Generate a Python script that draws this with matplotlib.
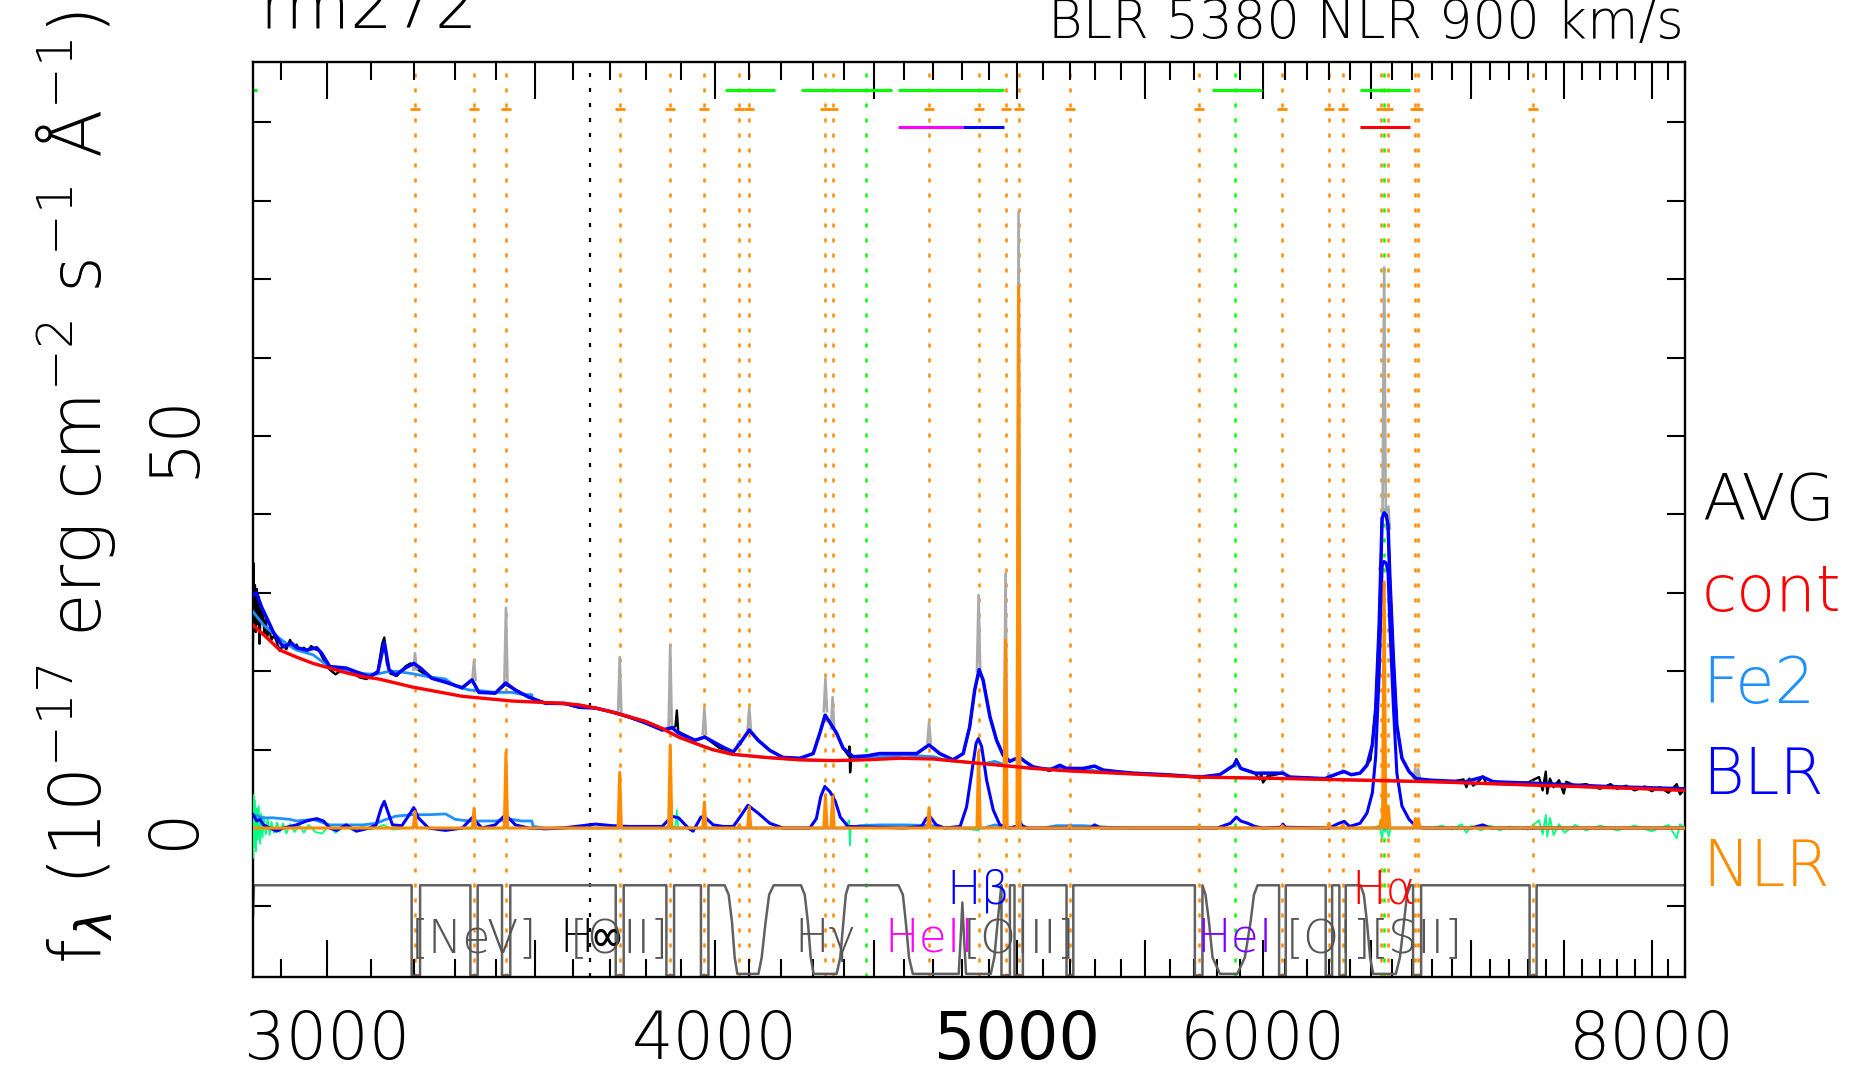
import numpy as np
import matplotlib
matplotlib.use("Agg")
import matplotlib.pyplot as plt

plt.rcParams['font.family'] = ['DejaVu Sans', 'DejaVu Sans Mono', 'Noto Sans CJK SC']
plt.rcParams['font.weight'] = 200
plt.rcParams['mathtext.fontset'] = 'custom'
plt.rcParams['mathtext.rm'] = 'DejaVu Sans:light'
plt.rcParams['mathtext.it'] = 'DejaVu Sans:italic:light'
plt.rcParams['mathtext.bf'] = 'DejaVu Sans:bold'
plt.rcParams['lines.scale_dashes'] = False

# ---------------- data (rest wavelength in Angstrom, flux in 1e-17 units) ----------------
cont_w = [2841, 2868, 2898, 2934, 2970, 3007, 3044, 3082, 3119, 3157, 3195, 3235, 3276, 3317,
          3358, 3399, 3441, 3484, 3528, 3573, 3616, 3661, 3706, 3752, 3799, 3846, 3893, 3941,
          3992, 4052, 4154, 4257, 4365, 4475, 4586, 4702, 4819, 4939, 5062, 5188, 5314, 5447,
          5583, 5723, 5813, 6128, 6458, 6806, 7173, 7559, 7966, 8200]
cont_f = [25.9, 24.4, 22.7, 21.8, 21.0, 20.4, 19.8, 19.3, 19.0, 18.5, 18.0, 17.6, 17.2, 16.8,
          16.6, 16.4, 16.2, 16.1, 16.0, 15.9, 15.7, 15.3, 14.8, 14.2, 13.6, 12.7, 11.6, 10.8,
          10.0, 9.4, 9.0, 8.7, 8.6, 8.7, 8.9, 8.8, 8.4, 8.0, 7.6, 7.3, 7.1, 6.9,
          6.7, 6.5, 6.45, 6.3, 6.1, 5.9, 5.6, 5.3, 5.0, 4.8]

model_w = [2841, 2848, 2859, 2870, 2884, 2905, 2923, 2934, 2956, 2978, 2989, 3007, 3044, 3067,
           3097, 3116, 3131, 3142, 3157, 3180, 3200, 3216, 3243, 3276, 3317, 3341, 3358, 3399,
           3425, 3450, 3484, 3528, 3580, 3616, 3661, 3706, 3752, 3799, 3846, 3874, 3893, 3941,
           3969, 3994, 4024, 4054, 4074, 4102, 4129, 4165, 4206, 4259, 4301, 4322, 4339, 4360,
           4376, 4397, 4430, 4474, 4518, 4586, 4643, 4686, 4723, 4770, 4806, 4829, 4847, 4863,
           4877, 4902, 4926, 4950, 4975, 4993, 5012, 5030, 5061, 5124, 5162, 5188, 5252, 5297,
           5330, 5383, 5450, 5586, 5726, 5811, 5872, 5883, 5902, 5964, 6089, 6121, 6281, 6347,
           6372, 6405, 6447, 6480, 6506, 6522, 6539, 6553, 6563, 6573, 6582, 6591, 6608, 6625,
           6650, 6685, 6720, 6790, 6969, 7060, 7116, 7340, 7730, 8200]
model_f = [29.7, 30.0, 28.2, 26.8, 25.0, 23.1, 23.6, 23.0, 22.7, 23.0, 22.3, 20.6, 20.4, 19.9,
           19.3, 19.9, 23.7, 20.2, 19.5, 20.4, 21.0, 20.4, 19.1, 18.6, 17.9, 18.9, 17.3, 17.2,
           18.5, 17.6, 16.7, 15.9, 15.9, 15.4, 15.3, 14.8, 14.2, 13.4, 12.5, 12.8, 12.1, 11.2,
           11.6, 11.0, 10.3, 9.7, 10.8, 12.5, 11.2, 9.9, 9.0, 8.9, 9.5, 12.1, 14.4, 13.1,
           12.1, 10.2, 9.1, 9.2, 9.5, 9.5, 9.5, 10.6, 9.5, 8.7, 9.5, 12.9, 17.6, 20.2,
           18.9, 14.2, 11.2, 9.3, 8.5, 8.8, 9.0, 8.5, 7.8, 7.4, 8.0, 7.6, 7.6, 7.9,
           7.4, 7.2, 7.0, 6.8, 6.5, 6.8, 8.0, 8.6, 7.6, 7.0, 7.0, 6.5, 6.3, 7.0,
           7.2, 6.8, 7.0, 8.0, 10.6, 15.2, 25.9, 39.5, 40.2, 39.9, 38.6, 31.8, 21.6, 13.1,
           8.9, 7.2, 6.3, 6.1, 5.9, 6.5, 5.9, 5.7, 5.3, 5.0]

contfe_w = [2841, 2863, 2884, 2920, 2934, 2970, 3007, 3044, 3082, 3112, 3135, 3157, 3195, 3235,
            3276, 3300, 3334, 3366, 3399, 3441, 3466, 3492, 3496, 3528, 3573, 3616, 3661, 3706,
            3752, 3799, 3846, 3893, 3941, 3992, 4052, 4154, 4257, 4365, 4420, 4450, 4520, 4600,
            4700, 4750, 4880, 4920, 4960, 5062, 5150, 5250, 5350, 5450, 5583, 5723, 6128, 6458,
            6806, 7173, 7559, 7966, 8200]
contfe_f = [27.6, 25.9, 24.8, 23.2, 22.7, 22.1, 20.5, 20.2, 19.7, 19.6, 19.9, 20.0, 19.7, 19.3,
            19.0, 18.1, 17.6, 17.5, 17.3, 17.3, 17.05, 17.0, 16.3, 16.0, 15.9, 15.7, 15.3, 14.8,
            14.2, 13.6, 12.7, 11.6, 10.8, 10.0, 9.4, 9.0, 8.7, 8.6, 8.65, 9.0, 9.1, 9.3,
            9.1, 8.6, 8.2, 8.5, 8.0, 7.6, 7.6, 7.5, 7.1, 6.9, 6.7, 6.5, 6.3, 6.1,
            5.9, 5.6, 5.3, 5.0, 4.8]

avg_w = [2841, 2842, 2843, 2845, 2847, 2849, 2851, 2853, 2855, 2857, 2860, 2862, 2865, 2868,
         2871, 2875, 2880, 2886, 2892, 2898, 2905, 2912, 2920, 2928, 2934, 2942, 2950, 2958,
         2966, 2975, 2984, 2993, 3007, 3020, 3030, 3044, 3060, 3075, 3090, 3105, 3116, 3126,
         3131, 3137, 3145, 3160, 3180, 3192, 3210, 3235, 3276, 3300, 3317, 3341, 3358, 3399,
         3425, 3450, 3484, 3528, 3580, 3616, 3661, 3706, 3752, 3799, 3846, 3874, 3884, 3888,
         3892, 3941, 3969, 4013, 4054, 4074, 4102, 4129, 4165, 4206, 4259, 4301, 4322, 4339,
         4360, 4376, 4397, 4415, 4418, 4420, 4424, 4474, 4518, 4586, 4643, 4686, 4723, 4770,
         4806, 4829, 4847, 4863, 4877, 4902, 4926, 4950, 4975, 4993, 5012, 5030, 5061, 5124,
         5162, 5188, 5252, 5297, 5330, 5383, 5450, 5586, 5726, 5811, 5872, 5883, 5902, 5964,
         5985, 5992, 6000, 6020, 6089, 6121, 6281, 6347, 6372, 6405, 6447, 6497, 6522, 6539,
         6553, 6563, 6573, 6582, 6591, 6608, 6625, 6650, 6685, 6720, 6790, 6900, 6960, 6975,
         6990, 7010, 7040, 7060, 7080, 7116, 7200, 7300, 7360, 7380, 7397, 7405, 7420, 7440,
         7470, 7496, 7510, 7560, 7620, 7700, 7760, 7800, 7850, 7900, 7960, 8000, 8050, 8100,
         8150, 8170, 8200]
avg_f = [24.0, 33.8, 26.0, 31.0, 25.0, 30.5, 26.0, 29.5, 23.5, 28.5, 26.5, 27.8, 24.8, 26.5,
         24.4, 25.5, 24.0, 24.6, 23.6, 22.6, 23.4, 22.8, 24.0, 22.9, 23.4, 22.6, 23.0, 22.6,
         23.2, 22.8, 22.6, 21.5, 20.2, 19.6, 20.0, 19.8, 19.7, 19.2, 19.0, 19.6, 20.0, 23.5,
         24.3, 21.0, 19.7, 19.4, 20.6, 21.0, 20.2, 19.3, 18.6, 18.2, 17.8, 18.9, 17.3, 17.2,
         18.3, 17.6, 16.7, 15.9, 15.8, 15.4, 15.3, 14.8, 14.1, 13.4, 12.5, 12.7, 13.0, 15.0,
         12.3, 11.2, 11.6, 10.2, 9.7, 10.8, 12.5, 11.2, 9.9, 9.0, 8.9, 9.5, 12.1, 14.4,
         13.1, 12.1, 10.2, 9.2, 10.4, 7.1, 9.1, 9.2, 9.5, 9.5, 9.5, 10.6, 9.5, 8.7,
         9.5, 12.9, 17.6, 20.2, 18.9, 14.2, 11.2, 9.3, 8.5, 8.8, 9.0, 8.5, 7.8, 7.3,
         8.0, 7.6, 7.6, 7.9, 7.4, 7.2, 7.0, 6.8, 6.5, 6.8, 8.0, 8.8, 7.6, 7.0,
         6.2, 6.9, 5.8, 6.6, 7.0, 6.5, 6.3, 7.0, 7.2, 6.8, 7.0, 8.7, 15.2, 25.9,
         39.5, 40.2, 39.9, 38.6, 31.8, 21.6, 13.1, 8.9, 7.2, 6.3, 6.1, 5.9, 6.2, 5.2,
         6.3, 5.4, 6.0, 6.6, 5.6, 5.9, 5.7, 5.8, 6.5, 4.8, 7.2, 4.4, 6.3, 5.2,
         6.1, 4.4, 5.9, 5.4, 5.6, 5.0, 5.6, 5.0, 5.4, 4.8, 5.3, 4.7, 5.2, 4.5,
         5.6, 4.3, 5.0]

fe2_w = [2841, 2863, 2884, 2920, 2934, 2970, 3007, 3044, 3082, 3112, 3135, 3157, 3195, 3235,
         3276, 3300, 3334, 3366, 3399, 3441, 3466, 3492, 3496, 3528, 4420, 4450, 4520, 4600,
         4700, 4750, 4880, 4920, 4960, 5100, 5150, 5250, 5350, 5450, 8200]
fe2_f = [1.7, 1.3, 1.3, 1.1, 0.9, 1.1, 0.4, 0.4, 0.4, 0.6, 1.1, 1.5, 1.7, 1.7,
         1.8, 1.1, 0.9, 0.9, 0.9, 1.1, 0.9, 0.9, 0.2, 0.0, 0.0, 0.3, 0.4, 0.4,
         0.3, 0.0, 0.0, 0.4, 0.0, 0.0, 0.3, 0.3, 0.1, 0.0, 0.0]

blr_w = [2841, 2849, 2856, 2863, 2877, 2891, 2905, 2934, 2956, 2978, 2993, 3007, 3022, 3044,
         3067, 3097, 3112, 3124, 3131, 3139, 3150, 3172, 3187, 3200, 3211, 3235, 3276, 3317,
         3341, 3366, 3399, 3425, 3450, 3484, 3528, 3573, 3661, 3706, 3752, 3846, 3874, 3893,
         3921, 3935, 3958, 3969, 3994, 4024, 4054, 4074, 4098, 4129, 4165, 4206, 4290, 4311,
         4325, 4338, 4355, 4372, 4388, 4413, 4600, 4660, 4676, 4688, 4711, 4740, 4795, 4818,
         4836, 4852, 4860, 4872, 4890, 4914, 4938, 4975, 5005, 5012, 5020, 5040, 5280, 5297,
         5320, 5800, 5857, 5883, 5902, 5933, 5964, 6000, 6080, 6089, 6100, 6300, 6347, 6372,
         6397, 6447, 6480, 6506, 6522, 6539, 6553, 6562, 6573, 6582, 6591, 6608, 6625, 6650,
         6685, 6720, 6755, 7000, 7060, 7100, 8200]
blr_f = [1.7, 0.9, 1.1, 0.4, 0.0, -0.4, 0.0, 0.4, 0.9, 1.2, 0.9, 0.0, -0.3, 0.4,
         -0.4, 0.0, 0.4, 2.6, 3.4, 2.1, 0.4, 0.3, 1.5, 2.6, 1.3, 0.0, -0.3, 0.0,
         1.3, 0.0, 0.4, 1.7, 0.4, 0.0, -0.1, 0.0, 0.5, 0.3, 0.2, 0.2, 1.5, 1.3,
         0.0, -0.4, 1.4, 1.4, 0.4, 0.2, 0.2, 1.4, 2.9, 1.9, 0.6, 0.0, 0.0, 1.2,
         4.0, 5.3, 4.6, 3.4, 1.4, 0.2, 0.0, 0.2, 1.2, 1.5, 0.4, 0.0, 0.2, 2.7,
         7.0, 10.8, 11.4, 10.4, 6.1, 2.3, 0.4, 0.0, 0.3, 0.8, 0.3, 0.0, 0.0, 0.4,
         0.0, 0.0, 0.6, 1.4, 0.9, 0.6, 0.2, 0.0, 0.1, 0.5, 0.1, 0.0, 0.6, 0.85,
         0.2, 0.6, 1.9, 4.5, 9.1, 19.8, 33.4, 34.0, 33.8, 32.5, 25.7, 15.5, 7.0, 2.8,
         1.1, 0.2, 0.0, 0.0, 0.4, 0.0, 0.0]

resid_w = [2841, 2842, 2843, 2845, 2847, 2849, 2851, 2853, 2856, 2858, 2861, 2864, 2868, 2872,
           2876, 2880, 2886, 2892, 2898, 2905, 2912, 2920, 2930, 2940, 2950, 2960, 2975, 2990,
           3005, 3020, 3040, 3060, 3080, 3100, 3130, 3150, 3200, 3300, 3500, 3800, 3884, 3888,
           3892, 4000, 4400, 4417, 4419, 4422, 4800, 4860, 4870, 5000, 6500, 6540, 6553, 6560,
           6568, 6575, 6585, 6595, 6650, 6800, 6850, 6900, 6950, 6975, 7000, 7050, 7100, 7150,
           7200, 7300, 7360, 7380, 7397, 7405, 7420, 7440, 7470, 7500, 7560, 7620, 7700, 7800,
           7900, 8000, 8100, 8150, 8170, 8200]
resid_f = [-3.8, 4.2, -2.5, 3.5, -3.0, 2.5, -1.5, 2.8, -2.0, 1.8, -1.2, 1.5, -0.8, 1.2,
           -0.9, 0.8, -0.6, 0.7, -0.5, 0.6, -0.7, 0.5, -0.5, 0.4, -0.6, 0.4, -0.5, -0.7,
           0.3, -0.6, 0.2, -0.3, 0.2, -0.2, 0.4, -0.2, 0.1, -0.1, 0.0, 0.0, 0.2, 2.3,
           0.0, 0.0, 0.0, 1.0, -2.2, 0.0, 0.0, -0.3, 0.0, 0.0, 0.0, 0.3, -1.3, 0.2,
           -0.5, 0.4, -1.1, 0.0, 0.0, 0.0, 0.3, -0.2, 0.5, -0.6, 0.3, -0.3, 0.3, -0.3,
           0.2, -0.2, 1.0, -0.8, 1.7, -1.1, 1.3, -0.9, 0.5, -0.6, 0.4, -0.3, 0.3, -0.3,
           0.3, -0.4, 0.4, -1.3, 0.5, 0.0]

# narrow (NLR) lines: centre, NLR-only peak, total-model peak
nlr_w = [3203, 3346, 3426, 3727, 3869, 3968, 4072, 4102, 4340, 4363, 4686, 4861, 4959, 5007,
         5200, 5721, 6087, 6300, 6364, 6548, 6563, 6583, 6716, 6731, 7325]
nlr_peak = [2.1, 2.5, 9.7, 7.1, 10.6, 3.3, 0.4, 2.7, 4.2, 4.0, 2.6, 9.7, 24.0, 69.1,
            0.3, 0.2, 0.3, 0.6, 0.3, 1.0, 31.4, 2.8, 1.2, 1.2, 0.2]
total_peak = [22.3, 21.4, 28.1, 21.8, 23.3, 15.3, 11.1, 15.3, 19.1, 16.7, 13.5, 29.7, 32.5, 78.6,
              7.9, 6.7, 7.3, 7.0, 7.4, 34.0, 71.5, 41.0, 7.6, 7.5, 5.9]

orange_marks = [3203, 3346, 3426, 3727, 3869, 3968, 4072, 4102, 4340, 4363, 4686, 4861, 4959,
                5007, 5200, 5721, 6087, 6300, 6364, 6548, 6583, 6716, 6731, 7325]
green_marks = [4471, 5876, 6563]
balmer_limit = 3646

green_win = [(2841, 2850), (4029, 4181), (4262, 4559), (4579, 4952), (5777, 5994), (6449, 6692)]
heii_win = (4579, 4804)
hb_win = (4804, 4952)
ha_win = (6449, 6692)

# line-fitting window profile (grey curve at the bottom)
win_w = [2841, 2843,
         3195, 3195, 3215, 3215, 3337, 3337, 3355, 3355, 3416, 3416, 3437, 3437,
         3716, 3716, 3738, 3738, 3858, 3858, 3880, 3880, 3958, 3958, 3980, 3980,
         4028, 4040, 4050, 4058, 4066, 4130, 4140, 4152, 4163, 4177,
         4262, 4274, 4284, 4293, 4302, 4376, 4388, 4398, 4406, 4415,
         4581, 4596, 4606, 4617, 4630, 4790, 4797, 4803, 4809, 4816, 4905, 4918, 4930, 4940, 4944,
         4944, 4975, 4975, 4992, 4992, 5023, 5023,
         5188, 5188, 5214, 5214,
         5705, 5705, 5737, 5737, 5750, 5765, 5780, 5812, 5887, 5920, 5945, 5960, 5976,
         6072, 6072, 6102, 6102, 6285, 6285, 6315, 6315, 6349, 6349, 6379, 6379,
         6449, 6465, 6480, 6495, 6510, 6620, 6640, 6660, 6675, 6692,
         6705, 6705, 6745, 6745, 7309, 7309, 7347, 7347, 8200]
win_f = [-11.0, -7.3,
         -7.3, -18.8, -18.8, -7.3, -7.3, -18.8, -18.8, -7.3, -7.3, -18.8, -18.8, -7.3,
         -7.3, -18.8, -18.8, -7.3, -7.3, -18.8, -18.8, -7.3, -7.3, -18.8, -18.8, -7.3,
         -7.3, -8.5, -12.0, -16.5, -18.6, -18.6, -16.5, -12.0, -8.5, -7.3,
         -7.3, -8.5, -12.0, -16.5, -18.6, -18.6, -16.5, -12.0, -8.5, -7.3,
         -7.3, -8.5, -12.0, -16.5, -18.6, -18.6, -14.0, -9.5, -14.0, -18.6, -18.6, -16.5, -12.0, -8.5, -7.3,
         -18.8, -18.8, -7.3, -7.3, -18.8, -18.8, -7.3,
         -7.3, -18.8, -18.8, -7.3,
         -7.3, -18.8, -18.8, -7.3, -8.5, -12.0, -16.5, -18.6, -18.6, -16.5, -12.0, -8.5, -7.3,
         -7.3, -18.8, -18.8, -7.3, -7.3, -18.8, -18.8, -7.3, -7.3, -18.8, -18.8, -7.3,
         -7.3, -8.5, -12.0, -16.5, -18.6, -18.6, -16.5, -12.0, -8.5, -7.3,
         -7.3, -18.8, -18.8, -7.3, -7.3, -18.8, -18.8, -7.3, -7.3]

line_labels = ['[NeV]', 'H\u221e', '[OII]', 'H\u03b3', 'HeII', 'H\u03b2', '[OIII]', 'HeI',
               '[OI]', '[SII]', 'H\u03b1']
label_w = [3346, 3646, 3727, 4340, 4686, 4861, 5007, 5876, 6300, 6724, 6563]
label_f = [-15.8, -15.8, -15.8, -15.8, -15.8, -9.6, -15.8, -15.8, -15.8, -15.8, -9.6]
label_c = ['#555555', 'black', '#555555', '#555555', '#ff00ff', '#0000ff', '#555555', '#8000ff',
           '#555555', '#555555', '#ff0000']

xmajor = [3000, 3500, 4000, 4500, 5000, 5500, 6000, 6500, 7000, 7500, 8000]
xmajor_labels = ['3000', '', '4000', '', '5000', '', '6000', '', '', '', '8000']
xminor = [w for w in range(2900, 8201, 100) if w % 500 != 0]
ymajor = [0, 50]
yminor = [-10, 10, 20, 30, 40, 60, 70, 80, 90]

legend_names = ['AVG', 'cont', 'Fe2', 'BLR', 'NLR']
legend_cols = ['black', '#ff0000', '#1e90ff', '#0000ff', '#ff8c00']

# ---------------- figure ----------------
W, H = 1863, 1075
fig = plt.figure(figsize=(W / 100, H / 100), dpi=100)
ax = fig.add_axes([253 / W, 1 - 977 / H, (1685 - 253) / W, (977 - 62) / H])
ax.set_xscale('log')
ax.set_xlim(2841, 8196)
ax.set_ylim(-19.0, 97.7)

dots = (0, (2.9, 7.9))
for w in orange_marks:
    ax.axvline(w, color='#ff8c00', lw=1.8, ls=dots, zorder=1)
for w in green_marks:
    ax.axvline(w, color='#00ff00', lw=1.8, ls=dots, zorder=1)
ax.axvline(balmer_limit, color='black', lw=1.6, ls=dots, zorder=1)
ax.plot(orange_marks, [91.7] * len(orange_marks), ls='none', marker='_', ms=7, mew=2,
        color='#ff8c00', zorder=2)
for a, b in green_win:
    ax.plot([a, b], [94.1, 94.1], color='#00ff00', lw=2.2, solid_capstyle='butt', zorder=2)
ax.plot(heii_win, [89.4, 89.4], color='#ff00ff', lw=2.2, solid_capstyle='butt', zorder=2)
ax.plot(hb_win, [89.4, 89.4], color='#0000ff', lw=2.2, solid_capstyle='butt', zorder=2)
ax.plot(ha_win, [89.4, 89.4], color='#ff0000', lw=2.2, solid_capstyle='butt', zorder=2)

# window profile
ax.plot(win_w, win_f, color='#606060', lw=1.8, zorder=2)

# upper spectrum
ax.plot(avg_w, avg_f, color='black', lw=1.7, zorder=3)
hw = 0.0012
gx, gy = [], []
for c, p, t in zip(nlr_w, nlr_peak, total_peak):
    base = t - p
    gx += [c * (1 - hw), c, c * (1 + hw), np.nan]
    gy += [base, t, base, np.nan]
ax.plot(gx, gy, color='#aaaaaa', lw=1.9, zorder=4)
ax.plot(contfe_w, contfe_f, color='#1e90ff', lw=2.0, zorder=5)
ax.plot(model_w, model_f, color='#0000ff', lw=2.5, zorder=6)
ax.plot(cont_w, cont_f, color='#ff0000', lw=2.4, zorder=7)

# lower components
ax.plot(resid_w, resid_f, color='#00ff80', lw=1.3, zorder=3)
ax.plot(fe2_w, fe2_f, color='#1e90ff', lw=2.0, zorder=4)
ax.plot(blr_w, blr_f, color='#0000ff', lw=2.2, zorder=5)
nx, ny = [2841], [0.0]
for c, p in zip(nlr_w, nlr_peak):
    nx += [c * (1 - hw), c, c * (1 + hw)]
    ny += [0.0, p, 0.0]
nx.append(8200)
ny.append(0.0)
ax.plot(nx, ny, color='#ff8c00', lw=2.2, zorder=6)

# line labels
for t, w, f, c in zip(line_labels, label_w, label_f, label_c):
    ax.text(w, f, t, color=c, fontsize=33, ha='center', va='baseline', zorder=8)

# axes styling
for s in ax.spines.values():
    s.set_linewidth(1.7)
ax.set_xticks(xmajor, labels=xmajor_labels)
ax.set_xticks(xminor, minor=True)
ax.xaxis.set_minor_formatter(matplotlib.ticker.NullFormatter())
ax.set_yticks(ymajor, labels=['0', '50'])
ax.set_yticks(yminor, minor=True)
ax.tick_params(axis='x', which='major', direction='in', length=26.5, width=1.5, top=True,
               labelsize=47, pad=23)
ax.tick_params(axis='x', which='minor', direction='in', length=13, width=1.5, top=True)
ax.tick_params(axis='y', which='both', direction='in', length=13, width=1.5, right=True)
ax.tick_params(axis='y', which='major', labelsize=48, labelrotation=90, pad=33)
for lbl in ax.get_yticklabels():
    lbl.set_va('center')
for lbl in ax.get_xticklabels():
    if lbl.get_text() == '5000':
        lbl.set_fontweight('normal')

fig.text(101 / W, 1 - 964 / H,
         r'f$_\lambda$ (10$^{-17}$ erg cm$^{-2}$ s$^{-1}$ Å$^{-1}$)',
         rotation=90, rotation_mode='anchor', ha='left', va='baseline', fontsize=51)
fig.text(259 / W, 1 - 27 / H, 'rm272', ha='left', va='baseline', fontsize=48)
fig.text(1684 / W, 1 - 38 / H, 'BLR 5380 NLR 900 km/s', ha='right', va='baseline', fontsize=38)
for i, (n, c) in enumerate(zip(legend_names, legend_cols)):
    fig.text(1702 / W, 1 - (520 + 91.5 * i) / H, n, color=c, ha='left', va='baseline', fontsize=46)

fig.savefig('out.png', dpi=100)
